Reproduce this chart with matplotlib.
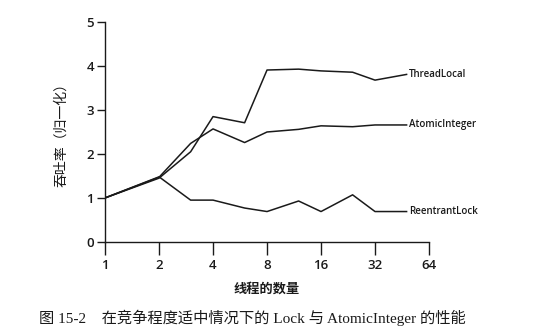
import matplotlib
matplotlib.use("Agg")
from matplotlib import pyplot as plt

## data
threads = [1, 2, 3, 4, 6, 8, 12, 16, 24, 32, 48]
thread_local = [1.0, 1.45, 2.05, 2.85, 2.71, 3.91, 3.93, 3.89, 3.86, 3.68, 3.81]
atomic_int = [1.0, 1.47, 2.24, 2.57, 2.26, 2.50, 2.56, 2.64, 2.62, 2.66, 2.66]
reentrant = [1.0, 1.48, 0.95, 0.95, 0.77, 0.69, 0.93, 0.69, 1.07, 0.69, 0.69]
series_names = ['ThreadLocal', 'AtomicInteger', 'ReentrantLock']
x_ticks = [1, 2, 4, 8, 16, 32, 64]
y_ticks = [0, 1, 2, 3, 4, 5]

plt.rcParams['font.family'] = ['Open Sans', 'Noto Sans CJK SC', 'DejaVu Sans']

fig = plt.figure(figsize=(5.5, 3.35), dpi=100)
ax = fig.add_axes([0.191, 0.278, 0.589, 0.656])

ink = '#1a1a1a'
for ys, name in zip([thread_local, atomic_int, reentrant], series_names):
    ax.plot(threads, ys, color=ink, linewidth=1.1)
    # label right after the last point
    ax.annotate(name, xy=(threads[-1], ys[-1]), xytext=(2, 0), textcoords='offset points',
                va='center', ha='left', fontsize=7, fontweight='semibold', color=ink)

ax.set_xscale('log', base=2)
ax.set_xlim(1, 64)
ax.set_ylim(0, 5)
ax.set_xticks(x_ticks)
ax.set_xticklabels([str(t) for t in x_ticks])
ax.minorticks_off()
ax.set_yticks(y_ticks)

for s in ['top', 'right']:
    ax.spines[s].set_visible(False)
for s in ['left', 'bottom']:
    ax.spines[s].set_color(ink)
    ax.spines[s].set_linewidth(1.0)

ax.tick_params(axis='y', direction='out', length=6, width=1, colors=ink, labelsize=9.5, pad=2)
ax.tick_params(axis='x', direction='out', length=9, width=1, colors=ink, labelsize=9.5, pad=3)
for lbl in ax.get_xticklabels() + ax.get_yticklabels():
    lbl.set_fontweight('semibold')

ax.set_ylabel('吞吐率（归一化）', fontsize=10, color=ink, labelpad=12)
ax.set_xlabel('线程的数量', fontsize=9.5, color=ink, fontweight='bold', labelpad=8)

fig.text(0.458, 0.05, '图 15-2    在竞争程度适中情况下的 Lock 与 AtomicInteger 的性能',
         ha='center', va='center', fontsize=11, color=ink,
         family=['Liberation Serif', 'Noto Sans CJK SC'])

plt.savefig('out.png', dpi=100)
